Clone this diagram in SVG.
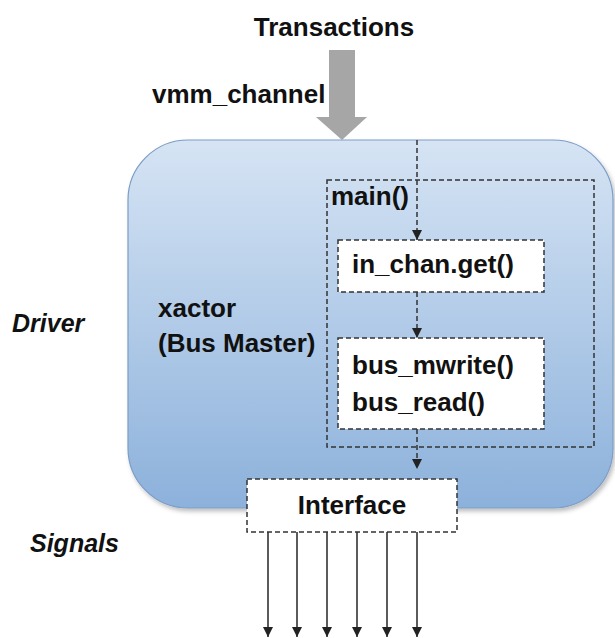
<svg xmlns="http://www.w3.org/2000/svg" width="615" height="638" viewBox="0 0 615 638">
<defs>
<linearGradient id="blue" x1="0" y1="0" x2="0" y2="1">
<stop offset="0" stop-color="#d6e4f4"/>
<stop offset="1" stop-color="#8cb1db"/>
</linearGradient>
<marker id="ah" viewBox="0 0 10 10" refX="10" refY="5" markerWidth="10" markerHeight="10" markerUnits="userSpaceOnUse" orient="auto">
<path d="M0,0 L10,5 L0,10 Z" fill="#222"/>
</marker>
<filter id="sh" x="-5%" y="-5%" width="112%" height="112%">
<feDropShadow dx="2" dy="3" stdDeviation="2" flood-color="#000" flood-opacity="0.25"/>
</filter>
</defs>
<style>
text{font-family:"Liberation Sans",Arial,sans-serif;font-weight:bold;fill:#111;font-size:26px}
.it{font-style:italic;font-size:25px}
.dash{fill:#fff;stroke:#333;stroke-width:1.5;stroke-dasharray:5 3}
.dl{fill:none;stroke:#333;stroke-width:1.5;stroke-dasharray:5 3}
.sig{stroke:#333;stroke-width:1.6;fill:none}
</style>
<rect width="615" height="638" fill="#fff"/>
<g id="labels">
<text x="334" y="36" text-anchor="middle">Transactions</text>
<text x="152" y="103">vmm_channel</text>
<text class="it" x="12" y="332">Driver</text>
<text class="it" x="30" y="552">Signals</text>
</g>
<g id="xactor">
<rect x="128" y="140" width="485" height="368" rx="60" ry="60" fill="url(#blue)" stroke="#7c9dc6" stroke-width="1.2" filter="url(#sh)"/>
<text x="158" y="317">xactor</text>
<text x="158" y="352">(Bus Master)</text>
</g>
<g id="channel-arrow">
<polygon points="329,50 355,50 355,117 367,117 342,140 316,117 329,117" fill="#a6a6a6"/>
</g>
<g id="main">
<rect x="327" y="180" width="267" height="267" fill="none" stroke="#333" stroke-width="1.5" stroke-dasharray="5 3"/>
<text x="331" y="205">main()</text>
</g>
<g id="in_chan">
<rect class="dash" x="338" y="240" width="206" height="52"/>
<text x="352" y="273">in_chan.get()</text>
</g>
<g id="bus">
<rect class="dash" x="338" y="338" width="206" height="91"/>
<text x="352" y="374">bus_mwrite()</text>
<text x="352" y="411">bus_read()</text>
</g>
<g id="interface">
<rect class="dash" x="247" y="479" width="210" height="53"/>
<text x="352" y="514" text-anchor="middle">Interface</text>
</g>
<g id="connectors">
<line class="dl" x1="417" y1="140" x2="417" y2="240" marker-end="url(#ah)"/>
<line class="dl" x1="417" y1="292" x2="417" y2="338" marker-end="url(#ah)"/>
<line class="dl" x1="417" y1="429" x2="417" y2="469" marker-end="url(#ah)"/>
<line class="sig" x1="268" y1="532" x2="268" y2="637" marker-end="url(#ah)"/>
<line class="sig" x1="297" y1="532" x2="297" y2="637" marker-end="url(#ah)"/>
<line class="sig" x1="327" y1="532" x2="327" y2="637" marker-end="url(#ah)"/>
<line class="sig" x1="357" y1="532" x2="357" y2="637" marker-end="url(#ah)"/>
<line class="sig" x1="387" y1="532" x2="387" y2="637" marker-end="url(#ah)"/>
<line class="sig" x1="417" y1="532" x2="417" y2="637" marker-end="url(#ah)"/>
</g>
</svg>
